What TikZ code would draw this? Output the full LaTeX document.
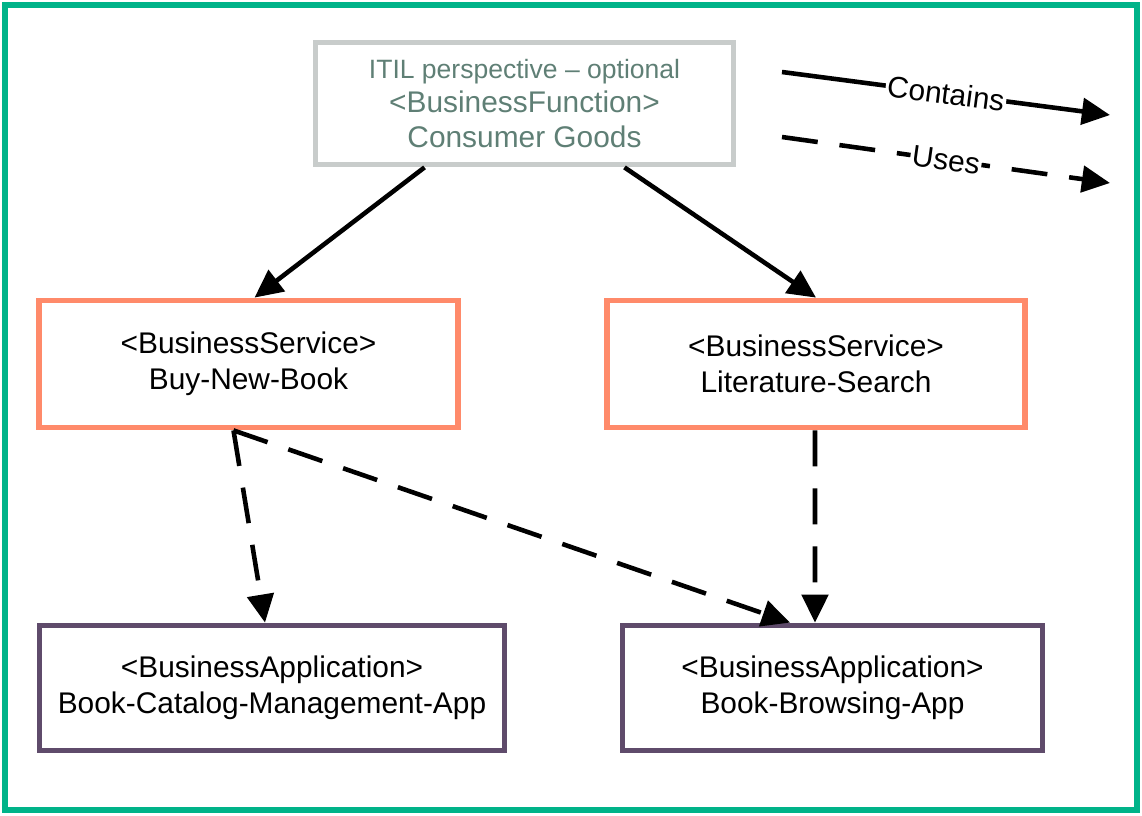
\documentclass[tikz,border=0pt]{standalone}
\usepackage{fontspec}
\setmainfont{Liberation Sans}
\usetikzlibrary{arrows.meta}
\definecolor{framegreen}{RGB}{0,179,137}
\definecolor{funcgray}{RGB}{200,204,203}
\definecolor{functext}{RGB}{95,127,117}
\definecolor{servsalmon}{RGB}{255,138,106}
\definecolor{apppurple}{RGB}{95,75,107}
\begin{document}
\begin{tikzpicture}[x=0.02cm,y=-0.02cm,every node/.style={align=center,inner sep=0pt,line width=3.3pt,font=\fontsize{17}{20.4}\selectfont},funcbox/.style={draw=funcgray,text=functext,minimum width=8.36cm,minimum height=2.44cm},servbox/.style={draw=servsalmon,minimum width=8.37cm,minimum height=2.54cm},appbox/.style={draw=apppurple,minimum height=2.5cm},contains/.style={line width=2.6pt,-{Triangle[length=16pt,width=15pt]}},uses/.style={contains,dash pattern=on 20.5pt off 12.5pt}]

\useasboundingbox (0,0) rectangle (1142,815);
\draw[framegreen,line width=3.3pt] (5,5) rectangle (1137,810);

\node[funcbox] (func) at (524.5,103.5) {{\fontsize{15.1}{19.6}\selectfont ITIL perspective -- optional}\\[-0.5pt]{\fontsize{17}{19.6}\selectfont \textless BusinessFunction\textgreater}\\[-0.5pt]Consumer Goods};
\node[servbox] (buy) at (248.5,364) {\textless BusinessService\textgreater\\Buy-New-Book};
\node[servbox] (lit) at (816,364) {\textless BusinessService\textgreater\\Literature-Search};
\node[appbox,minimum width=9.3cm] (cat) at (272,688) {\textless BusinessApplication\textgreater\\Book-Catalog-Management-App};
\node[appbox,minimum width=8.4cm] (brw) at (832.5,688) {\textless BusinessApplication\textgreater\\Book-Browsing-App};

\draw[contains] ([xshift=-2cm]func.south) -- ([xshift=0.12cm]buy.north);
\draw[contains] ([xshift=2cm]func.south) -- (lit.north);
\draw[uses] ([xshift=-0.3cm]buy.south) -- ([xshift=-0.14cm]cat.north);
\draw[uses] ([xshift=-0.3cm]buy.south) -- ([xshift=-0.85cm]brw.north);
\draw[uses] ([xshift=-0.02cm]lit.south) -- ([xshift=-0.35cm]brw.north);

\coordinate (cfrom) at (782,72);
\coordinate (cto) at (1110,115);
\coordinate (ufrom) at (782,137);
\coordinate (uto) at (1110,183);
\draw[contains] (cfrom) -- node[midway,sloped,fill=white,inner sep=1pt] {Contains} (cto);
\draw[uses] (ufrom) -- node[midway,sloped,fill=white,inner sep=1pt] {Uses} (uto);
\end{tikzpicture}
\end{document}
